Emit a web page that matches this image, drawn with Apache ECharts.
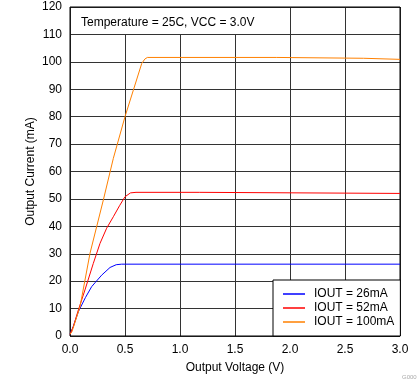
<!DOCTYPE html>
<html>
<head>
<meta charset="utf-8">
<script src="https://cdn.jsdelivr.net/npm/echarts@6/dist/echarts.min.js"></script>
<style>html,body{margin:0;padding:0;background:#fff}#c{width:419px;height:382px}</style>
</head>
<body>
<div id="c"></div>
<script>
const seriesNames = ['IOUT = 26mA', 'IOUT = 52mA', 'IOUT = 100mA'];
const blueV = [0, 0.03, 0.076, 0.14, 0.197, 0.227, 0.288, 0.364, 0.42, 0.47, 3.0];
const blueI = [0.6, 3.5, 8.9, 14.0, 18.0, 19.4, 22.2, 25.0, 26.0, 26.2, 26.2];
const redV = [0, 0.03, 0.076, 0.136, 0.212, 0.273, 0.333, 0.394, 0.45, 0.5, 0.55, 0.6, 1.18, 1.18, 3.0];
const redI = [0.6, 3.4, 9.5, 16.8, 26.5, 33.8, 39.3, 43.5, 47.5, 50.8, 52.2, 52.4, 52.4, 52.0, 52.0];
const orangeV = [0, 0.018, 0.091, 0.182, 0.303, 0.394, 0.5, 0.576, 0.652, 0.68, 0.703, 1.88, 1.88, 2.67, 2.67, 3.0];
const orangeI = [0.6, 1.6, 10.7, 30.2, 49.6, 64.8, 80.0, 89.7, 99.4, 101.0, 101.6, 101.6, 101.3, 101.3, 100.9, 100.9];
const colors = ['#0000FF', '#FF0000', '#FF8000'];
const annotation = 'Temperature = 25C, VCC = 3.0V';

function pairs(v, i) { return v.map((x, k) => [x, i[k]]); }
const font = '"Liberation Sans", Arial, sans-serif';
const chart = echarts.init(document.getElementById('c'), null, {renderer: 'canvas'});
const datas = [pairs(blueV, blueI), pairs(redV, redI), pairs(orangeV, orangeI)];
chart.setOption({
  animation: false,
  textStyle: {fontFamily: font, color: '#000'},
  grid: {left: 70, right: 19, top: 7, bottom: 46, show: true, borderColor: '#000', borderWidth: 1, z: 3},
  xAxis: {
    type: 'value', min: 0, max: 3, interval: 0.5,
    name: 'Output Voltage (V)', nameLocation: 'middle', nameGap: 26, nameMoveOverlap: false,
    nameTextStyle: {fontSize: 12, color: '#000', fontFamily: font},
    axisLine: {show: false}, axisTick: {show: false},
    axisLabel: {fontSize: 12, color: '#000', margin: 8, fontFamily: font, formatter: v => v.toFixed(1)},
    splitLine: {show: true, lineStyle: {color: '#333', width: 1}}
  },
  yAxis: {
    type: 'value', min: 0, max: 120, interval: 10,
    name: 'Output Current (mA)', nameLocation: 'middle', nameGap: 33, nameMoveOverlap: false,
    nameTextStyle: {fontSize: 12, color: '#000', fontFamily: font},
    axisLine: {show: false}, axisTick: {show: false},
    axisLabel: {fontSize: 12, color: '#000', margin: 8, fontFamily: font},
    splitLine: {show: true, lineStyle: {color: '#333', width: 1}}
  },
  legend: {
    orient: 'vertical', left: 273, top: 280,
    data: seriesNames.map((n, k) => ({name: n, icon: 'rect', itemStyle: {color: colors[k]}})),
    backgroundColor: '#fff', borderColor: '#000', borderWidth: 1, borderRadius: 0,
    padding: [7, 6, 7, 10], itemGap: 0, itemWidth: 22, itemHeight: 1.5,
    textStyle: {fontSize: 12, color: '#000', fontFamily: font, padding: [0, 0, 0, 4], lineHeight: 14},
    z: 10
  },
  graphic: [
    {type: 'rect', shape: {x: 71, y: 8, width: 190, height: 26}, style: {fill: '#fff'}, z: 5, silent: true},
    {type: 'text', x: 81, y: 23, style: {text: annotation, fontSize: 12, fill: '#000', fontFamily: font, verticalAlign: 'middle'}, z: 6},
    {type: 'text', x: 402, y: 377, style: {text: 'G000', fontSize: 6, fill: '#aaa', fontFamily: font, verticalAlign: 'middle'}, z: 6}
  ],
  series: datas.map((d, k) => ({
    type: 'line', name: seriesNames[k], data: d, symbol: 'none', showSymbol: false,
    lineStyle: {color: colors[k], width: 1}, itemStyle: {color: colors[k]}, z: 4
  }))
});
</script>
</body>
</html>
